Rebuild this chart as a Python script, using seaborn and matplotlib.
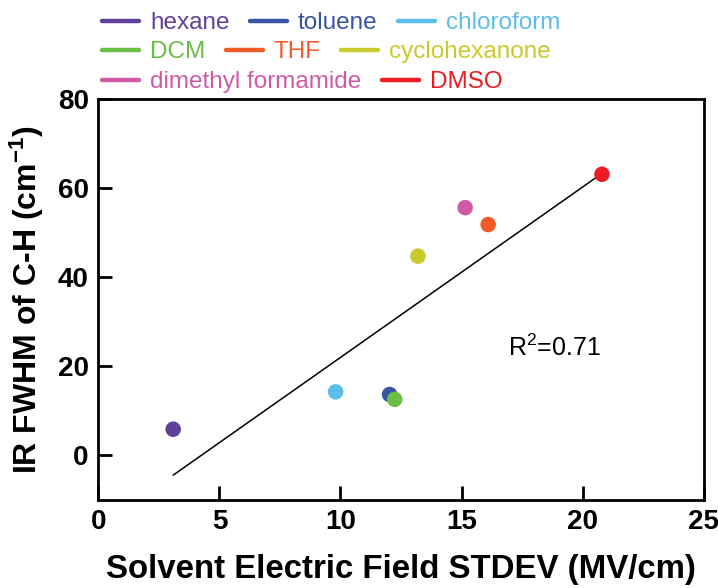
import matplotlib
matplotlib.use("Agg")
import matplotlib.pyplot as plt
from matplotlib.lines import Line2D
import seaborn as sns
import pandas as pd

# Solvent data: electric-field spread vs. C-H band width
solvents = ["hexane", "toluene", "chloroform", "DCM", "THF",
            "cyclohexanone", "dimethyl formamide", "DMSO"]
field_stdev = [3.09, 12.03, 9.80, 12.24, 16.10, 13.20, 15.15, 20.80]
fwhm = [5.8, 13.6, 14.2, 12.5, 51.8, 44.7, 55.6, 63.1]
colors = ["#5F4199", "#3953A4", "#5BBDE9", "#6ABD45", "#F15A29",
          "#C9CA2B", "#CF5BA5", "#EC1C24"]

x_ticks = [0, 5, 10, 15, 20, 25]
y_ticks = [0, 20, 40, 60, 80]

df = pd.DataFrame({"solvent": solvents, "x": field_stdev, "y": fwhm})
palette = dict(zip(solvents, colors))

sns.set_theme(style="ticks")
plt.rcParams["font.family"] = ["Liberation Sans", "DejaVu Sans"]
plt.rcParams["mathtext.default"] = "regular"
for key in ["text.color", "axes.labelcolor", "xtick.color", "ytick.color",
            "axes.edgecolor"]:
    plt.rcParams[key] = "black"

fig = plt.figure(figsize=(7.18, 5.88), dpi=100)
ax = fig.add_axes([0.137, 0.1505, 0.843, 0.681])

sns.regplot(data=df, x="x", y="y", scatter=False, ci=None, color="black",
            line_kws={"lw": 1.1}, ax=ax)
sns.scatterplot(data=df, x="x", y="y", hue="solvent", palette=palette,
                s=125, linewidth=0, legend=False, ax=ax, zorder=3)

ax.set_xlim(0, 25)
ax.set_ylim(-10, 80)
ax.set_xticks(x_ticks)
ax.set_yticks(y_ticks)
ax.tick_params(direction="in", length=10, width=2, labelsize=20,
               pad=7, color="black", labelcolor="black")
for lab in ax.get_xticklabels() + ax.get_yticklabels():
    lab.set_fontweight("bold")
for sp in ax.spines.values():
    sp.set_linewidth(2)
    sp.set_color("black")

ax.set_xlabel("Solvent Electric Field STDEV (MV/cm)", fontsize=23.8,
              fontweight="bold")
ax.set_ylabel("IR FWHM of C-H (cm$^{-1}$)", fontsize=23, fontweight="bold")
ax.xaxis.set_label_coords(0.5, -0.135)
ax.yaxis.set_label_coords(-0.087, 0.5)

ax.text(16.9, 22.2, "R$^2$=0.71", fontsize=18, ha="left", va="baseline")

# Legend laid out in three flowing rows
rows = [[0, 1, 2], [3, 4, 5], [6, 7]]
row_y = [23, 52, 82]
for idx, ry in zip(rows, row_y):
    handles = [Line2D([], [], color=colors[i], lw=3.2) for i in idx]
    labels = [solvents[i] for i in idx]
    leg = fig.legend(handles, labels, loc="center left",
                     bbox_to_anchor=(102 / 718, 1 - ry / 588),
                     ncol=len(idx), frameon=False, fontsize=17.5,
                     handlelength=1.52, handletextpad=0.45,
                     columnspacing=0.85, borderpad=0, borderaxespad=0,
                     labelcolor="linecolor")

fig.savefig("out.png", dpi=100)
